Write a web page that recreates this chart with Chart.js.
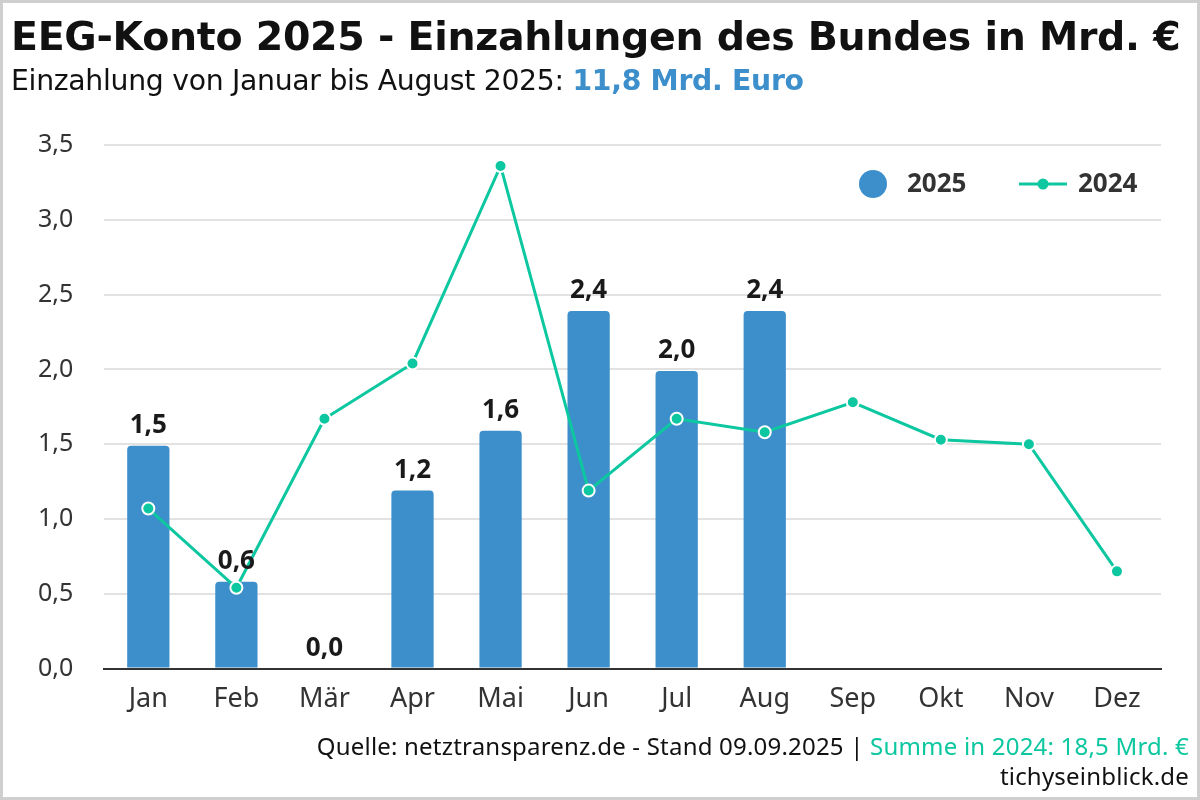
<!DOCTYPE html>
<html lang="de">
<head>
<meta charset="utf-8">
<script src="https://cdn.jsdelivr.net/npm/chart.js@4.4.1/dist/chart.umd.min.js"></script>
<style>
  html, body { margin: 0; padding: 0; background: #fff; }
  #frame { position: relative; width: 1200px; height: 800px; box-sizing: border-box; border: 3px solid #cfcfcf; overflow: hidden; font-family: "Noto Sans", sans-serif; }
  #title { position: absolute; left: 8px; top: 10px; font-family: "DejaVu Sans", sans-serif; font-size: 39.5px; font-weight: 700; color: #111; white-space: nowrap; letter-spacing: -0.3px; }
  #subtitle { position: absolute; left: 8px; top: 61px; font-family: "DejaVu Sans", sans-serif; font-size: 28.3px; color: #111; white-space: nowrap; letter-spacing: -0.3px; }
  #subtitle b { color: #3d8fcb; }
  #chartwrap { position: absolute; left: 0; top: 0; width: 1194px; height: 732px; }
  #footer1 { position: absolute; right: 8px; top: 726px; font-family: "Noto Sans", sans-serif; font-size: 24px; color: #111; white-space: nowrap; letter-spacing: 0.2px; }
  #footer1 span { color: #0cc79f; }
  #footer2 { position: absolute; right: 8px; top: 756px; font-family: "Noto Sans", sans-serif; font-size: 24px; color: #111; white-space: nowrap; letter-spacing: 0.2px; }
</style>
</head>
<body>
<div id="frame">
  <div id="chartwrap"><canvas id="c"></canvas></div>
  <div id="title">EEG-Konto 2025 - Einzahlungen des Bundes in Mrd. €</div>
  <div id="subtitle">Einzahlung von Januar bis August 2025: <b>11,8 Mrd. Euro</b></div>
  <div id="footer1">Quelle: netztransparenz.de - Stand 09.09.2025 | <span>Summe in 2024: 18,5 Mrd. €</span></div>
  <div id="footer2">tichyseinblick.de</div>
</div>
<script>
const months = ["Jan", "Feb", "Mär", "Apr", "Mai", "Jun", "Jul", "Aug", "Sep", "Okt", "Nov", "Dez"];
const values2025 = [1.49, 0.58, 0.0, 1.19, 1.59, 2.39, 1.99, 2.39, null, null, null, null];
const values2024 = [1.07, 0.54, 1.67, 2.04, 3.36, 1.19, 1.67, 1.58, 1.78, 1.53, 1.50, 0.65];
const yTicks = [0, 0.5, 1.0, 1.5, 2.0, 2.5, 3.0, 3.5];

const BLUE = "#3d8fcb";
const GREEN = "#0cc79f";
const FONT = "'Noto Sans', sans-serif";
const fmt = v => v.toFixed(1).replace(".", ",");

const labelPlugin = {
  id: "barLabels",
  afterDatasetsDraw(chart) {
    const ctx = chart.ctx;
    const meta = chart.getDatasetMeta(0);
    ctx.save();
    ctx.font = "700 26px " + FONT;
    ctx.fillStyle = "#1a1a1a";
    ctx.textAlign = "center";
    ctx.textBaseline = "alphabetic";
    meta.data.forEach((bar, i) => {
      const v = values2025[i];
      if (v === null) return;
      ctx.fillText(fmt(v), bar.x, bar.y - 13);
    });
    ctx.restore();
  }
};

const legendPlugin = {
  id: "customLegend",
  afterDraw(chart) {
    const ctx = chart.ctx;
    const y = 181;
    ctx.save();
    ctx.fillStyle = BLUE;
    ctx.beginPath(); ctx.arc(870, y, 14, 0, Math.PI * 2); ctx.fill();
    ctx.font = "700 26px " + FONT;
    ctx.fillStyle = "#333";
    ctx.textBaseline = "middle";
    ctx.fillText(chart.data.datasets[0].label, 904, y + 1);
    ctx.strokeStyle = GREEN; ctx.lineWidth = 3;
    ctx.beginPath(); ctx.moveTo(1016, y); ctx.lineTo(1064, y); ctx.stroke();
    ctx.fillStyle = GREEN;
    ctx.beginPath(); ctx.arc(1040, y, 5.5, 0, Math.PI * 2); ctx.fill();
    ctx.fillStyle = "#333";
    ctx.fillText(chart.data.datasets[1].label, 1075, y + 1);
    ctx.restore();
  }
};

new Chart(document.getElementById("c"), {
  data: {
    labels: months,
    datasets: [
      {
        type: "bar",
        label: "2025",
        data: values2025,
        backgroundColor: BLUE,
        borderRadius: { topLeft: 4, topRight: 4, bottomLeft: 0, bottomRight: 0 },
        borderSkipped: "start",
        barPercentage: 0.96,
        categoryPercentage: 0.5,
        order: 2
      },
      {
        type: "line",
        label: "2024",
        data: values2024,
        borderColor: GREEN,
        borderWidth: 3,
        pointBackgroundColor: GREEN,
        pointBorderColor: "#fff",
        pointBorderWidth: 2,
        pointRadius: 6,
        tension: 0,
        order: 1
      }
    ]
  },
  options: {
    responsive: true,
    maintainAspectRatio: false,
    animation: false,
    layout: { padding: { top: 142, right: 36, left: 4, bottom: 4 } },
    plugins: { legend: { display: false }, tooltip: { enabled: false } },
    scales: {
      x: {
        grid: { display: false, drawTicks: false },
        border: { display: true, color: "#333", width: 2 },
        ticks: { color: "#333", font: { family: FONT, size: 27 }, padding: 15 }
      },
      y: {
        min: 0, max: 3.5,
        afterBuildTicks(axis) { axis.ticks = yTicks.map(v => ({ value: v })); },
        grid: { color: "#e2e2e2", lineWidth: 2, drawTicks: false },
        border: { display: false },
        ticks: { color: "#333", font: { family: FONT, size: 25 }, padding: 31, callback: v => fmt(v) }
      }
    }
  },
  plugins: [labelPlugin, legendPlugin]
});
</script>
</body>
</html>
